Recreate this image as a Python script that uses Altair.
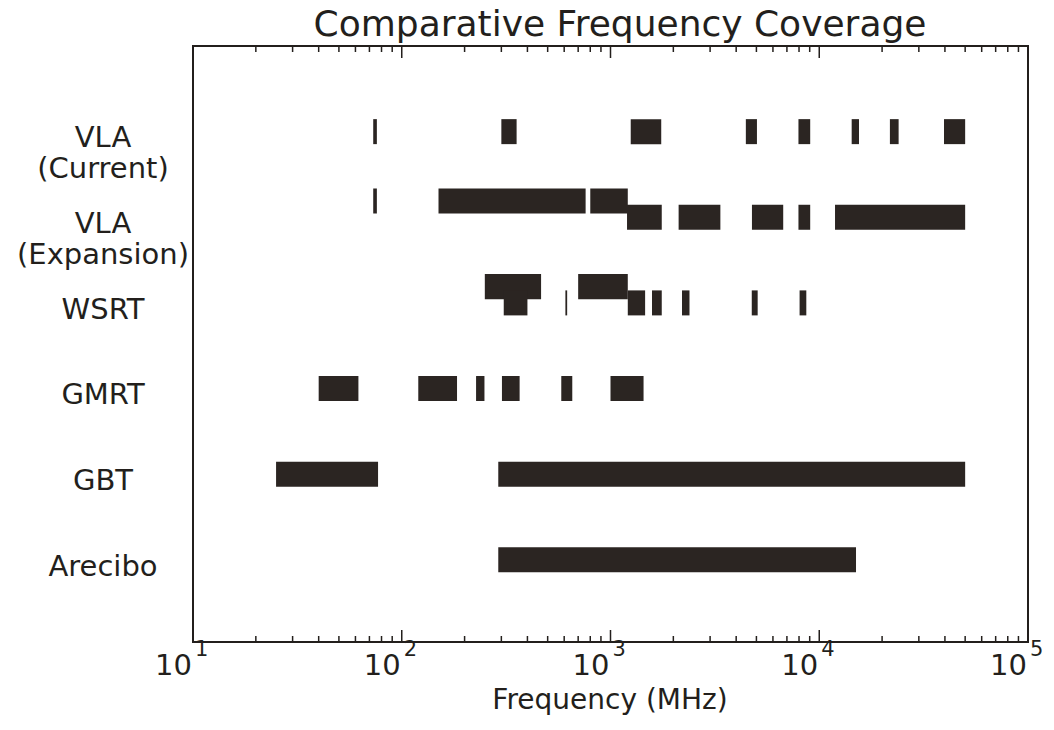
import altair as alt
import pandas as pd

# ---------------- data (MHz) ----------------
instruments = ["VLA\n(Current)", "VLA\n(Expansion)", "WSRT", "GMRT", "GBT", "Arecibo"]

# each instrument: bands on the base level (lo, hi) and bands on the raised level
vla_cur_lo = [73, 300, 1250, 4450, 7950, 14300, 21800, 39600]
vla_cur_hi = [76, 355, 1750, 5030, 9050, 15500, 24000, 50000]

vla_exp_up_lo = [73, 150, 800]
vla_exp_up_hi = [76, 760, 1210]
vla_exp_lo = [1200, 2120, 4760, 7950, 11900]
vla_exp_hi = [1760, 3360, 6720, 9050, 50000]

wsrt_up_lo = [250, 700]
wsrt_up_hi = [465, 1210]
wsrt_lo = [308, 608, 1210, 1580, 2200, 4750, 8050]
wsrt_hi = [400, 620, 1465, 1760, 2390, 5070, 8670]

gmrt_lo = [40, 120, 227, 302, 581, 1000]
gmrt_hi = [62, 184, 249, 367, 656, 1440]

gbt_lo = [25, 290]
gbt_hi = [77, 50000]

arecibo_lo = [290]
arecibo_hi = [15000]

tick_exponents = [1, 2, 3, 4, 5]
minor_mult = [2, 3, 4, 5, 6, 7, 8, 9]

# ---------------- tables ----------------
groups = [
    (1, 0, vla_cur_lo, vla_cur_hi),
    (2, 1, vla_exp_up_lo, vla_exp_up_hi),
    (2, 0, vla_exp_lo, vla_exp_hi),
    (3, 1, wsrt_up_lo, wsrt_up_hi),
    (3, 0, wsrt_lo, wsrt_hi),
    (4, 0, gmrt_lo, gmrt_hi),
    (5, 0, gbt_lo, gbt_hi),
    (6, 0, arecibo_lo, arecibo_hi),
]
HALF = 0.146
RAISE = 0.19
rows = []
for row, level, los, his in groups:
    c = row - RAISE * level
    for lo, hi in zip(los, his):
        rows.append({"row": row, "lo": lo, "hi": hi, "y0": c - HALF, "y1": c + HALF})
bands = pd.DataFrame(rows)

labels = pd.DataFrame({"name": instruments,
                       "ypos": [i + 1 + 0.08 for i in range(len(instruments))]})

majors = pd.DataFrame({"v": [10 ** e for e in tick_exponents],
                       "exp": [str(e) for e in tick_exponents],
                       "base": ["10"] * len(tick_exponents)})
minors = pd.DataFrame({"v": [m * 10 ** e for e in tick_exponents[:-1] for m in minor_mult]})

W, H = 835, 596
FONT = "DejaVu Sans"
INK = "#231f1c"

xs = alt.Scale(type="log", domain=[10, 100000])
ys = alt.Scale(domain=[0, 6.96], reverse=True)

bars = alt.Chart(bands).mark_rect(color="#2b2522").encode(
    x=alt.X("lo:Q", scale=xs, axis=None),
    x2="hi:Q",
    y=alt.Y("y0:Q", scale=ys, axis=None),
    y2="y1:Q",
)

row_labels = alt.Chart(labels).mark_text(
    font=FONT, fontSize=29, color=INK, align="center", baseline="middle",
    lineBreak="\n", lineHeight=31,
).encode(
    x=alt.value(-90),
    y=alt.Y("ypos:Q", scale=ys, axis=None),
    text="name:N",
)

def tick_layer(df, y_a, y_b):
    return alt.Chart(df).mark_rule(color=INK, strokeWidth=1.5).encode(
        x=alt.X("v:Q", scale=xs, axis=None),
        y=alt.value(y_a),
        y2=alt.value(y_b),
    )

ticks = [
    tick_layer(majors, H, H - 12),
    tick_layer(minors, H, H - 6),
    tick_layer(majors, 0, 12),
    tick_layer(minors, 0, 6),
]

base_text = alt.Chart(majors).mark_text(
    font=FONT, fontSize=29, color=INK, align="right", baseline="alphabetic", dx=-1,
).encode(x=alt.X("v:Q", scale=xs, axis=None), y=alt.value(H + 33), text="base:N")

exp_text = alt.Chart(majors).mark_text(
    font=FONT, fontSize=21, color=INK, align="left", baseline="alphabetic", dx=2,
).encode(x=alt.X("v:Q", scale=xs, axis=None), y=alt.value(H + 14), text="exp:N")

one = pd.DataFrame({"t": ["Frequency (MHz)"], "title": ["Comparative Frequency Coverage"]})
x_title = alt.Chart(one).mark_text(
    font=FONT, fontSize=28, color=INK, align="center", baseline="alphabetic",
).encode(x=alt.value(417), y=alt.value(H + 67), text="t:N")

main_title = alt.Chart(one).mark_text(
    font=FONT, fontSize=36, color=INK, align="center", baseline="alphabetic",
).encode(x=alt.value(427), y=alt.value(-10), text="title:N")

chart = alt.layer(bars, row_labels, *ticks, base_text, exp_text, x_title, main_title).properties(
    width=W, height=H,
    padding={"left": 193, "top": 46, "right": 26, "bottom": 88},
    autosize=alt.AutoSizeParams(type="none"),
).configure_view(stroke=INK, strokeWidth=2)

chart.save("out.html", embed_options={"renderer": "svg", "actions": False})
